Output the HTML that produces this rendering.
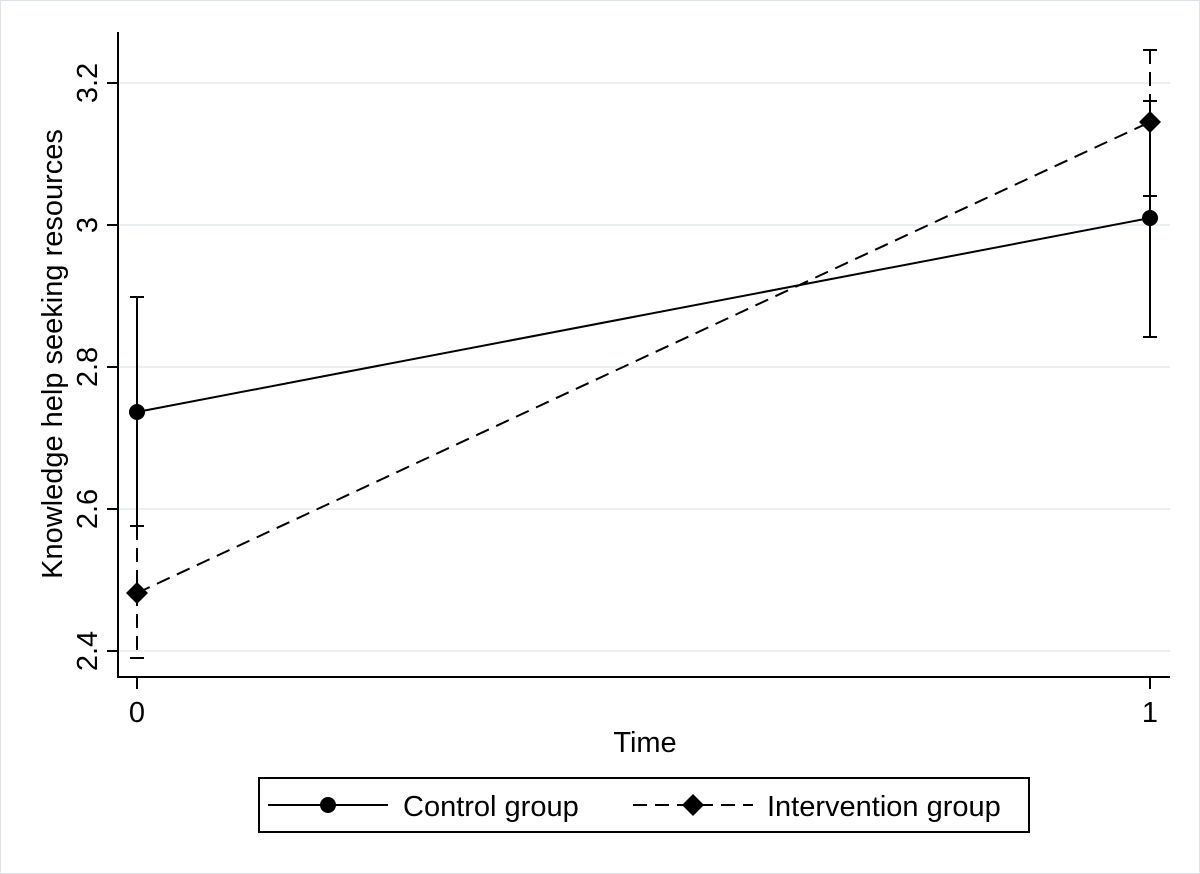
<!DOCTYPE html>
<html><head><style>body{margin:0;background:#fff}svg{display:block}</style></head><body>
<svg width="1200" height="874" xmlns="http://www.w3.org/2000/svg" font-family="Liberation Sans, Arial, sans-serif">
<rect x="0.5" y="0.5" width="1199" height="873" fill="#fff" stroke="#dde3e8"/>
<g stroke="#eaf0f3" stroke-width="2">
<line x1="119" y1="83" x2="1170" y2="83"/><line x1="119" y1="225" x2="1170" y2="225"/>
<line x1="119" y1="367" x2="1170" y2="367"/><line x1="119" y1="509" x2="1170" y2="509"/>
<line x1="119" y1="651" x2="1170" y2="651"/></g>
<g stroke="#000" stroke-width="2" fill="none">
<line x1="118" y1="32" x2="118" y2="678"/><line x1="117" y1="677" x2="1170" y2="677"/>
<line x1="107" y1="83" x2="118" y2="83"/><line x1="107" y1="225" x2="118" y2="225"/>
<line x1="107" y1="367" x2="118" y2="367"/><line x1="107" y1="509" x2="118" y2="509"/>
<line x1="107" y1="651" x2="118" y2="651"/>
<line x1="137" y1="677" x2="137" y2="689"/><line x1="1150" y1="677" x2="1150" y2="689"/>
<line x1="137" y1="297" x2="137" y2="526"/><line x1="130" y1="297" x2="144" y2="297"/><line x1="130" y1="526" x2="144" y2="526"/>
<line x1="1150" y1="101" x2="1150" y2="337"/><line x1="1143" y1="101" x2="1157" y2="101"/><line x1="1143" y1="337" x2="1157" y2="337"/>
<line x1="137" y1="412" x2="1150" y2="218"/>
<g stroke-dasharray="14 8">
<line x1="137" y1="526" x2="137" y2="658"/>
<line x1="1150" y1="50" x2="1150" y2="196"/>
<line x1="137" y1="593" x2="1150" y2="122"/></g>
<line x1="130" y1="658" x2="144" y2="658"/>
<line x1="1143" y1="50" x2="1157" y2="50"/><line x1="1143" y1="196" x2="1157" y2="196"/>
</g>
<circle cx="137" cy="412" r="8"/><circle cx="1150" cy="218" r="8"/>
<path d="M137 582 L148 593 L137 604 L126 593Z"/><path d="M1150 111 L1161 122 L1150 133 L1139 122Z"/>
<g font-size="29" text-anchor="middle">
<text transform="translate(97,83) rotate(-90)">3.2</text>
<text transform="translate(97,225) rotate(-90)">3</text>
<text transform="translate(97,367) rotate(-90)">2.8</text>
<text transform="translate(97,509) rotate(-90)">2.6</text>
<text transform="translate(97,651) rotate(-90)">2.4</text>
<text x="137" y="722">0</text><text x="1150" y="722">1</text>
<text x="645" y="752">Time</text>
<text transform="translate(62,354) rotate(-90)">Knowledge help seeking resources</text>
</g>
<rect x="259" y="778" width="770" height="54" fill="#fff" stroke="#000" stroke-width="2"/>
<line x1="268" y1="805" x2="388" y2="805" stroke="#000" stroke-width="2"/>
<circle cx="328" cy="805" r="8"/>
<line x1="633" y1="805" x2="753" y2="805" stroke="#000" stroke-width="2" stroke-dasharray="14 8"/>
<path d="M693 794 L704 805 L693 816 L682 805Z"/>
<text x="403" y="816" font-size="29">Control group</text>
<text x="767" y="816" font-size="29">Intervention group</text>
</svg>
</body></html>
